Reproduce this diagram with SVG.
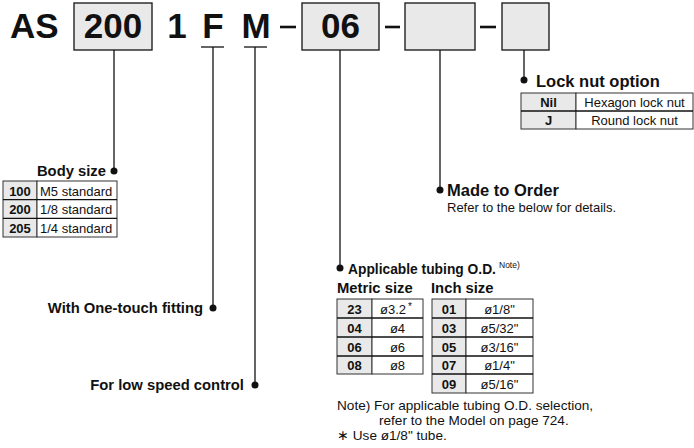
<svg xmlns="http://www.w3.org/2000/svg" width="694" height="448" viewBox="0 0 694 448">
<style>
text{font-family:"Liberation Sans",Arial,Helvetica,sans-serif;fill:#111}
.big{font-size:35px;font-weight:bold}
.box{fill:#e8e9e8;stroke:#222;stroke-width:1.4}
.ln{stroke:#111;stroke-width:1.3;fill:none}
.dash{stroke:#111;stroke-width:2.6}
.dot{fill:#111}
.h{font-size:14.8px;font-weight:bold}
.t{font-size:13px}
.n{font-size:13.6px}
.tb{font-size:13px;font-weight:bold}
.cell{fill:#fff;stroke:#333;stroke-width:1}
.code{fill:#e8e9e8;stroke:#333;stroke-width:1}
.c{text-anchor:middle}
.r{text-anchor:end}
</style>
<rect x="0" y="0" width="694" height="448" fill="#fff"/>

<g id="code">
<text class="big" x="10" y="38">AS</text>
<rect class="box" x="74" y="3" width="78" height="47"/>
<text class="big c" x="113" y="38">200</text>
<text class="big c" x="177" y="38">1</text>
<text class="big c" x="213" y="38">F</text>
<text class="big c" x="256" y="38">M</text>
<line class="dash" x1="280" y1="27" x2="296" y2="27"/>
<rect class="box" x="302" y="3" width="77" height="47"/>
<text class="big c" x="340.5" y="38">06</text>
<line class="dash" x1="385" y1="27" x2="400" y2="27"/>
<rect class="box" x="405" y="3" width="70" height="47"/>
<line class="dash" x1="480" y1="27" x2="496" y2="27"/>
<rect class="box" x="502" y="3" width="47" height="47"/>
<line class="ln" x1="201" y1="47" x2="224" y2="47" stroke-width="1.6"/>
<line class="ln" x1="244" y1="47" x2="267" y2="47" stroke-width="1.6"/>
</g>

<g id="connectors">
<polyline class="ln" points="114,50 114,171"/>
<circle class="dot" cx="114" cy="171" r="3.5"/>
<polyline class="ln" points="213,47 213,308"/>
<circle class="dot" cx="213" cy="308" r="3.5"/>
<polyline class="ln" points="255,47 255,385"/>
<circle class="dot" cx="255" cy="385" r="3.5"/>
<polyline class="ln" points="340,50 340,268"/>
<circle class="dot" cx="340" cy="268" r="3.5"/>
<polyline class="ln" points="440,50 440,190"/>
<circle class="dot" cx="440" cy="190" r="3.5"/>
<polyline class="ln" points="524,50 524,80"/>
<circle class="dot" cx="524" cy="80" r="3.5"/>
</g>

<g id="body-size">
<text class="h r" x="106" y="176">Body size</text>
<rect class="code" x="3" y="181" width="34" height="56"/>
<rect class="cell" x="37" y="181" width="80" height="56"/>
<line class="ln" x1="3" y1="199.7" x2="117" y2="199.7" stroke-width="1"/>
<line class="ln" x1="3" y1="218.3" x2="117" y2="218.3" stroke-width="1"/>
<text class="tb c" x="20" y="195.5">100</text>
<text class="t" x="40" y="195.5">M5 standard</text>
<text class="tb c" x="20" y="214">200</text>
<text class="t" x="40" y="214">1/8 standard</text>
<text class="tb c" x="20" y="233">205</text>
<text class="t" x="40" y="233">1/4 standard</text>
</g>

<g id="lock-nut">
<text x="536" y="87" style="font-size:16.5px;font-weight:bold">Lock nut option</text>
<rect class="code" x="521" y="93" width="55" height="36"/>
<rect class="cell" x="576" y="93" width="117" height="36"/>
<line class="ln" x1="521" y1="111" x2="693" y2="111" stroke-width="1"/>
<text class="tb c" x="548.5" y="106.5">Nil</text>
<text class="t c" x="634.5" y="106.5">Hexagon lock nut</text>
<text class="tb c" x="548.5" y="124.5">J</text>
<text class="t c" x="634.5" y="124.5">Round lock nut</text>
</g>

<g id="made-to-order">
<text x="447" y="196" style="font-size:16.5px;font-weight:bold">Made to Order</text>
<text class="t" x="447" y="212">Refer to the below for details.</text>
</g>

<g id="fitting">
<text class="h r" x="203" y="313">With One-touch fitting</text>
</g>

<g id="speed">
<text class="h r" x="244" y="390">For low speed control</text>
</g>

<g id="tubing">
<text x="348" y="274" style="font-size:13.8px;font-weight:bold">Applicable tubing O.D.</text>
<text x="499" y="268" style="font-size:8.5px">Note)</text>
<text class="h" x="337" y="293">Metric size</text>
<text class="h" x="431" y="293">Inch size</text>
<rect class="code" x="337" y="299" width="35" height="75"/>
<rect class="cell" x="372" y="299" width="51" height="75"/>
<line class="ln" x1="337" y1="318" x2="423" y2="318" stroke-width="1"/>
<line class="ln" x1="337" y1="337" x2="423" y2="337" stroke-width="1"/>
<line class="ln" x1="337" y1="356" x2="423" y2="356" stroke-width="1"/>
<text class="tb c" x="354.5" y="313.5">23</text>
<text class="t" x="380" y="313.5">ø3.2<tspan dx="2" dy="-4" style="font-size:10px">*</tspan></text>
<text class="tb c" x="354.5" y="332.5">04</text>
<text class="t c" x="397.5" y="332.5">ø4</text>
<text class="tb c" x="354.5" y="351.5">06</text>
<text class="t c" x="397.5" y="351.5">ø6</text>
<text class="tb c" x="354.5" y="370">08</text>
<text class="t c" x="397.5" y="370">ø8</text>
<rect class="code" x="432" y="299" width="34" height="94"/>
<rect class="cell" x="466" y="299" width="67" height="94"/>
<line class="ln" x1="432" y1="318" x2="533" y2="318" stroke-width="1"/>
<line class="ln" x1="432" y1="337" x2="533" y2="337" stroke-width="1"/>
<line class="ln" x1="432" y1="356" x2="533" y2="356" stroke-width="1"/>
<line class="ln" x1="432" y1="374" x2="533" y2="374" stroke-width="1"/>
<text class="tb c" x="449" y="313.5">01</text>
<text class="t c" x="499.5" y="313.5">ø1/8"</text>
<text class="tb c" x="449" y="332.5">03</text>
<text class="t c" x="499.5" y="332.5">ø5/32"</text>
<text class="tb c" x="449" y="351.5">05</text>
<text class="t c" x="499.5" y="351.5">ø3/16"</text>
<text class="tb c" x="449" y="370">07</text>
<text class="t c" x="499.5" y="370">ø1/4"</text>
<text class="tb c" x="449" y="389">09</text>
<text class="t c" x="499.5" y="389">ø5/16"</text>
<text class="n" x="337" y="410">Note) For applicable tubing O.D. selection,</text>
<text class="n" x="379" y="425">refer to the Model on page 724.</text>
<text class="n" x="337" y="440">∗ Use ø1/8" tube.</text>
</g>
</svg>
